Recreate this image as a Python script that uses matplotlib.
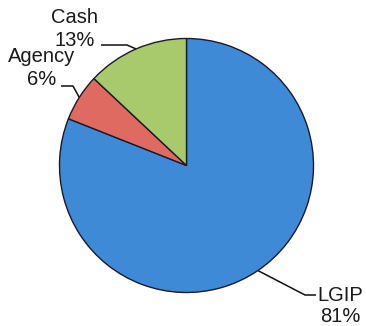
import numpy as np
import matplotlib
matplotlib.use("Agg")
import matplotlib.pyplot as plt

labels = ["LGIP", "Agency", "Cash"]
shares = [81, 6, 13]
colors = ["#3f8ad6", "#df6a61", "#a8c96c"]

W, H = 366, 326
fig = plt.figure(figsize=(W / 100, H / 100), dpi=100)
ax = fig.add_axes([0, 0, 1, 1])

cx, cy, r = 186.5, H - 165.5, 127
wedges, _ = ax.pie(shares, colors=colors, startangle=90, counterclock=False,
                   center=(cx, cy), radius=r, frame=True,
                   wedgeprops=dict(edgecolor="#1a1a2a", linewidth=1.0))
ax.set_xlim(0, W)
ax.set_ylim(0, H)
ax.set_aspect("equal")
ax.axis("off")

# label text positions (image px, y down): line1 baseline, line2 baseline, line start, elbow
label_pos = {
    "LGIP":   dict(x=340, y1=301, y2=322, start=(316, 295), elbow=(305, 295)),
    "Agency": dict(x=41.5, y1=62, y2=85, start=(61, 86), elbow=(73, 86)),
    "Cash":   dict(x=75, y1=23, y2=46, start=(101, 45), elbow=(127, 45)),
}

fs = 14.5
for w, lab, pct in zip(wedges, labels, shares):
    p = label_pos[lab]
    mid = np.deg2rad((w.theta1 + w.theta2) / 2)
    ex, ey = cx + r * np.cos(mid), cy + r * np.sin(mid)
    sx, sy = p["start"]
    bx, by = p["elbow"]
    ax.plot([sx, bx, ex], [H - sy, H - by, ey], color="#111111", lw=1.1,
            solid_capstyle="butt", zorder=0.5)
    ax.text(p["x"], H - p["y1"], lab, ha="center", va="baseline", fontsize=fs,
            family="Liberation Sans", color="#1a1a1a")
    ax.text(p["x"], H - p["y2"], f"{pct}%", ha="center", va="baseline", fontsize=fs,
            family="Liberation Sans", color="#1a1a1a")

fig.savefig("out.png", dpi=100, facecolor="white")
